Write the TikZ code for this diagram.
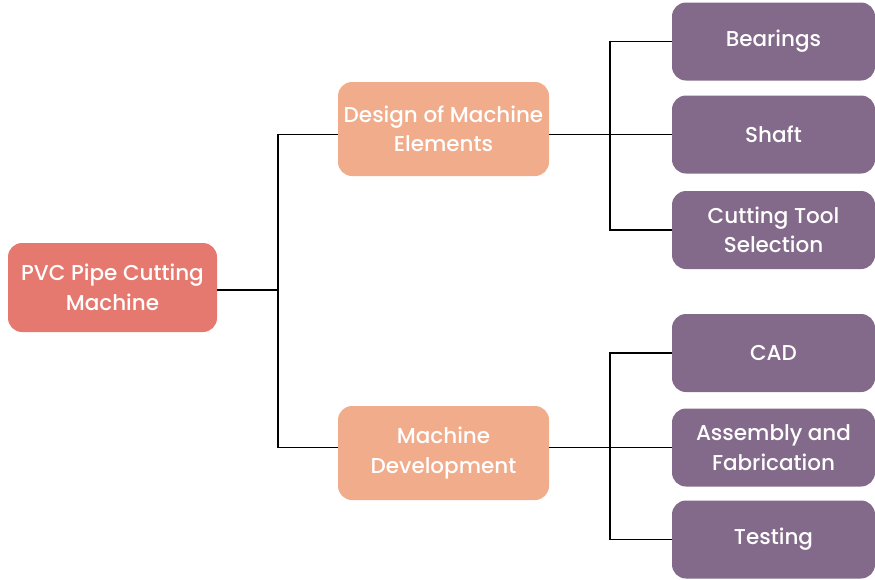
\documentclass[tikz,border=0pt]{standalone}
\usepackage{fontspec}
\setmainfont{Poppins}[UprightFont={Poppins Medium},BoldFont={Poppins SemiBold}]
\usetikzlibrary{positioning}
\definecolor{rootred}{HTML}{E6796F}
\definecolor{midpeach}{HTML}{F1AC8C}
\definecolor{leafpurple}{HTML}{846A8A}

\tikzset{
  box/.style={rounded corners=14pt,align=center,text=white,inner sep=0pt,
    font=\fontsize{21.5}{29.5}\selectfont},
  rootbox/.style={box,fill=rootred,minimum width=209pt,minimum height=89pt},
  midbox/.style={box,fill=midpeach,minimum width=211pt,minimum height=94pt},
  leafbox/.style={box,fill=leafpurple,minimum width=203pt,minimum height=78pt},
  link/.style={line width=1.5pt,black}
}

\begin{document}
\begin{tikzpicture}[x=1pt,y=-1pt]
  \useasboundingbox (0,0) rectangle (875,579);
  \node[rootbox] (root) at (112.5,287.5) {PVC Pipe Cutting\\Machine};
  \node[midbox] (design) at (443.5,129) {Design of Machine\\Elements};
  \node[midbox] (dev) at (443.5,453) {Machine\\Development};
  \node[leafbox] (bear) at (773.5,41.5) {Bearings};
  \node[leafbox] (shaft) at (773.5,134.5) {Shaft};
  \node[leafbox] (tool) at (773.5,230) {Cutting Tool\\Selection};
  \node[leafbox] (cad) at (773.5,353) {CAD};
  \node[leafbox] (asm) at (773.5,447.5) {Assembly and\\Fabrication};
  \node[leafbox] (test) at (773.5,539.5) {Testing};

  % root to the two branches
  \draw[link] ([yshift=-2.5pt]root.east) -- ++(61,0) coordinate (j0) |- (design.west |- shaft);
  \draw[link] (j0) |- (dev.west |- asm);
  % design branch
  \draw[link] (design.east |- shaft) -- ++(61,0) coordinate (j1) |- (bear.west);
  \draw[link] (j1) -- (shaft.west);
  \draw[link] (j1) |- (tool.west);
  % development branch
  \draw[link] (dev.east |- asm) -- ++(61,0) coordinate (j2) |- (cad.west);
  \draw[link] (j2) -- (asm.west);
  \draw[link] (j2) |- (test.west);
\end{tikzpicture}
\end{document}
